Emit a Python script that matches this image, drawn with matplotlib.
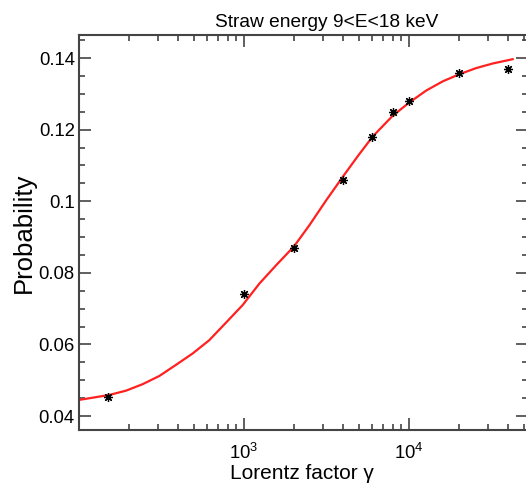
import matplotlib
matplotlib.use("Agg")
import matplotlib.pyplot as plt
from matplotlib.ticker import FixedLocator, FixedFormatter, NullFormatter, MultipleLocator, FormatStrFormatter

# Measured points
gamma = [150, 1000, 2000, 4000, 6000, 8000, 10000, 20000, 40000]
prob = [0.0454, 0.0740, 0.0869, 0.1060, 0.1179, 0.1250, 0.1279, 0.1359, 0.1370]

# Fit curve
fit_gamma = [100, 153, 193, 243, 307, 387, 489, 616, 778, 981, 1239, 1563,
             2009, 2489, 3140, 4018, 5000, 6026, 7963, 10040, 12670, 15990,
             20180, 25470, 32140, 42460]
fit_prob = [0.0445, 0.0459, 0.0471, 0.0489, 0.0512, 0.0543, 0.0575, 0.0612,
            0.0661, 0.0710, 0.0770, 0.0821, 0.0874, 0.0933, 0.1002, 0.1072,
            0.1132, 0.1181, 0.1239, 0.1276, 0.1309, 0.1335, 0.1355, 0.1372,
            0.1385, 0.1397]

major_x = [1e3, 1e4]
major_x_labels = [r"$\mathregular{10^{3}}$", r"$\mathregular{10^{4}}$"]
minor_x = [200, 300, 400, 500, 600, 700, 800, 900,
           2000, 3000, 4000, 5000, 6000, 7000, 8000, 9000,
           20000, 30000, 40000, 50000]

title = "Straw energy 9<E<18 keV"
xlabel = "Lorentz factor \u03b3"
ylabel = "Probability"

fam = ["Liberation Sans", "DejaVu Sans"]
plt.rcParams["font.family"] = fam
plt.rcParams["mathtext.fontset"] = "custom"
plt.rcParams["mathtext.rm"] = "Liberation Sans"
plt.rcParams["mathtext.it"] = "Liberation Sans:italic"

W, H = 526, 492
fig = plt.figure(figsize=(W / 100, H / 100), dpi=100)
left_px, right_px, top_px, bot_px = 79, 528, 34.5, 430
ax = fig.add_axes([left_px / W, 1 - bot_px / H, (right_px - left_px) / W, (bot_px - top_px) / H])

ax.set_xscale("log")
ax.set_xlim(100, 52600)
ax.set_ylim(0.0361, 0.1466)

ax.plot(fit_gamma, fit_prob, color="#ff2020", lw=1.6, zorder=2)
ax.plot(gamma, prob, linestyle="none", marker=(8, 2, 0), markersize=6.5,
        mew=0.9, color="black", zorder=3)

ax.xaxis.set_major_locator(FixedLocator(major_x))
ax.xaxis.set_major_formatter(FixedFormatter(major_x_labels))
ax.xaxis.set_minor_locator(FixedLocator(minor_x))
ax.xaxis.set_minor_formatter(NullFormatter())
ax.yaxis.set_major_locator(MultipleLocator(0.02))
ax.yaxis.set_minor_locator(MultipleLocator(0.005))
ax.yaxis.set_major_formatter(FormatStrFormatter("%g"))

spine_col = "#444444"
for s in ax.spines.values():
    s.set_linewidth(1.5)
    s.set_color(spine_col)

ax.tick_params(which="both", direction="in", top=True, right=True, colors=spine_col,
               labelcolor="black", width=1.2)
ax.tick_params(which="major", length=8.6)
ax.tick_params(which="minor", length=4.3)
ax.tick_params(axis="y", which="major", pad=3, labelsize=13.3)
ax.tick_params(axis="x", which="major", pad=9, labelsize=13.3)

fig.text(326.7 / W, 1 - 27 / H, title, fontsize=13.8, ha="center", va="baseline")
fig.text(302 / W, 1 - 479 / H, xlabel, fontsize=15, ha="center", va="baseline")
fig.text(24 / W, 1 - 233 / H, ylabel, fontsize=18.5, rotation=90,
         ha="center", va="center")

fig.savefig("out.png", dpi=100)
